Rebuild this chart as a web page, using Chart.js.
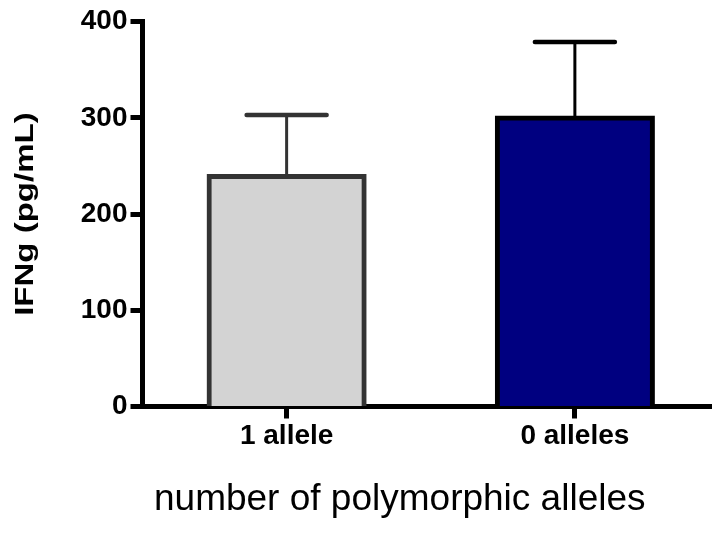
<!DOCTYPE html>
<html>
<head>
<meta charset="utf-8">
<style>
  html, body { margin: 0; padding: 0; background: #fff; overflow: hidden; }
  #wrap { width: 720px; height: 536px; }
</style>
<script src="https://cdn.jsdelivr.net/npm/chart.js@4"></script>
</head>
<body>
<div id="wrap"><canvas id="c"></canvas></div>
<script>
// IFNg by number of polymorphic alleles (mean + upper error bar)
const categories = ['1 allele', '0 alleles'];
const means = [239, 300];
const errorTops = [303, 379];
const fillColors = ['#d3d3d3', '#000080'];
const edgeColors = ['#333333', '#000000'];
const yTicks = [0, 100, 200, 300, 400];
const yTitle = 'IFNg (pg/mL)';
const xTitle = 'number of polymorphic alleles';

const FONT = '"Liberation Sans", Arial, Helvetica, sans-serif';

// Upper error bars: stem from the bar top to a capped whisker
const errorBars = {
  id: 'errorBars',
  afterDatasetsDraw(chart) {
    const { ctx } = chart;
    const meta = chart.getDatasetMeta(0);
    const y = chart.scales.y;
    ctx.save();
    meta.data.forEach((bar, i) => {
      const x = bar.x;
      const yTop = y.getPixelForValue(errorTops[i]);
      const yBase = y.getPixelForValue(means[i]);
      const half = 40;
      ctx.strokeStyle = edgeColors[i];
      ctx.lineWidth = 3;
      ctx.lineCap = 'butt';
      ctx.beginPath();
      ctx.moveTo(x, yBase);
      ctx.lineTo(x, yTop);
      ctx.stroke();
      ctx.lineWidth = 4.5;
      ctx.lineCap = 'round';
      ctx.beginPath();
      ctx.moveTo(x - half, yTop);
      ctx.lineTo(x + half, yTop);
      ctx.stroke();
    });
    ctx.restore();
  }
};

// Vertical axis title, drawn in a tall bold face beside the axis
const yAxisTitle = {
  id: 'yAxisTitle',
  afterDraw(chart) {
    const { ctx, chartArea } = chart;
    const cy = (chartArea.top + chartArea.bottom) / 2;
    ctx.save();
    ctx.font = 'bold 25px ' + FONT;
    ctx.fillStyle = '#000';
    ctx.textAlign = 'center';
    ctx.textBaseline = 'middle';
    ctx.translate(26, cy);
    ctx.rotate(-Math.PI / 2);
    ctx.scale(1.32, 1);
    ctx.fillText(yTitle, 0, 0);
    ctx.restore();
  }
};

new Chart(document.getElementById('c'), {
  type: 'bar',
  data: {
    labels: categories,
    datasets: [{
      data: means,
      backgroundColor: fillColors,
      borderColor: edgeColors,
      borderWidth: 5,
      borderSkipped: 'start',
      inflateAmount: 2.5,
      barPercentage: 0.538,
      categoryPercentage: 1.0
    }]
  },
  options: {
    responsive: true,
    maintainAspectRatio: false,
    animation: false,
    devicePixelRatio: 1,
    layout: { padding: { left: 80.5, right: 1, top: 21.7, bottom: 6.1 } },
    plugins: {
      legend: { display: false },
      tooltip: { enabled: false },
      title: {
        display: true,
        position: 'bottom',
        text: xTitle,
        color: '#000',
        font: { family: FONT, size: 37, weight: 'normal' },
        padding: { top: 22.5, bottom: 7.5 }
      }
    },
    scales: {
      x: {
        z: 1,
        afterFit(scale) { scale.height = 49; },
        grid: {
          display: true,
          offset: false,
          drawOnChartArea: false,
          drawTicks: true,
          tickLength: 12,
          tickWidth: 5,
          tickColor: '#000'
        },
        border: { display: true, color: '#000', width: 5 },
        ticks: {
          color: '#000',
          padding: 1,
          font: { family: FONT, size: 28, weight: 'bold' }
        }
      },
      y: {
        z: 1,
        min: 0,
        max: 400,
        afterFit(scale) { scale.width = 62; },
        afterBuildTicks(scale) {
          scale.ticks = yTicks.map(v => ({ value: v }));
        },
        grid: {
          display: true,
          drawOnChartArea: false,
          drawTicks: true,
          tickLength: 12,
          tickWidth: 5,
          tickColor: '#000'
        },
        border: { display: true, color: '#000', width: 5 },
        ticks: {
          color: '#000',
          padding: 3,
          font: { family: FONT, size: 28, weight: 'bold' }
        }
      }
    }
  },
  plugins: [errorBars, yAxisTitle]
});
</script>
</body>
</html>
